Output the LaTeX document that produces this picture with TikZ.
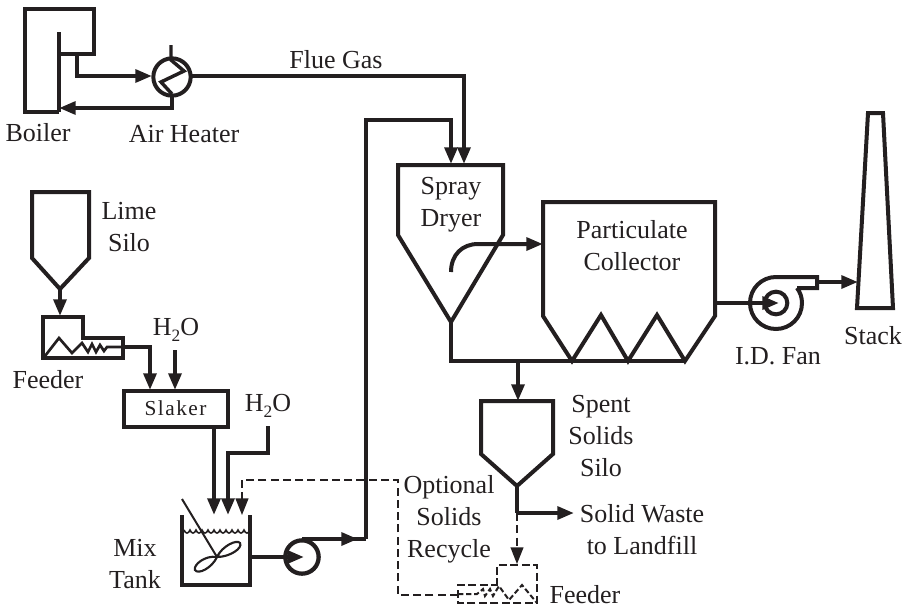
\documentclass[tikz,border=0pt]{standalone}
\usepackage{fontspec}
\setmainfont{Liberation Serif}
\usetikzlibrary{arrows.meta}
\newcommand{\wat}{H\raisebox{-4.5pt}{\fontsize{13}{13}\selectfont 2}O}
\tikzset{
  eq/.style={line width=3pt,line join=miter,color=ink},
  pipe/.style={line width=3pt,color=ink,line join=miter},
  flow/.style={pipe,-{Triangle[length=12.5pt,width=9.5pt]}},
  dashpipe/.style={line width=1.5pt,color=ink,dash pattern=on 6pt off 3.2pt},
  dashflow/.style={dashpipe,-{Triangle[length=12.5pt,width=9.5pt,sep=0pt]}},
  lbl/.style={inner sep=0pt,align=center,text=ink,font=\fontsize{19.5}{24}\selectfont},
}
\definecolor{ink}{RGB}{35,31,32}
\begin{document}
\begin{tikzpicture}[x=0.75pt,y=-0.75pt]
\useasboundingbox (0,0) rectangle (911,608);
% named points
\coordinate (boilerOut) at (77,54);
\coordinate (heaterW) at (152,76);
\coordinate (heaterE) at (192,76);
\coordinate (heaterS) at (172,97);
\coordinate (boilerIn) at (59,108);
\coordinate (dryerA) at (451,164);
\coordinate (dryerB) at (464,164);
\coordinate (dryerC) at (451,322);
\coordinate (pcW) at (543,244);
\coordinate (pcE) at (715,303);
\coordinate (fanC) at (779,303);
\coordinate (fanOut) at (817,282);
\coordinate (stackW) at (858,282);
\coordinate (limeOut) at (60,289);
\coordinate (feedT) at (60,316);
\coordinate (feedOut) at (123,347);
\coordinate (slakerA) at (150,390);
\coordinate (slakerB) at (175,390);
\coordinate (waterA) at (175,350);
\coordinate (slakerOut) at (214,427);
\coordinate (tankA) at (214,515);
\coordinate (tankB) at (228,515);
\coordinate (tankC) at (242,515);
\coordinate (waterB) at (268,426);
\coordinate (tankE) at (250,557);
\coordinate (pumpC) at (304,557);
\coordinate (pumpT) at (302,539);
\coordinate (pumpArrow) at (358,539);
\coordinate (bendA) at (366,539);
\coordinate (solidsIn) at (518,401);
\coordinate (busJ) at (518,361);
\coordinate (silo) at (517,486);
\coordinate (silojoin) at (517,513);
\coordinate (wasteEnd) at (574,513);
\coordinate (feeder2T) at (517,564);
\coordinate (feeder2W) at (458,595);
% Boiler
\draw[eq] (59,112) -- (25,112) -- (25,9) -- (94,9) -- (94,54) -- (59,54);
\draw[eq] (59,32) -- (59,112);
% Air heater
\node[draw=ink,line width=3pt,circle,minimum size=28pt,inner sep=0pt] (heater) at (172,77) {};
\draw[line width=2.6pt,color=ink] (171,45) -- (171,60) -- (184,71) -- (161,82) -- (172,94);
\draw[flow] (boilerOut) |- (heaterW);
\draw[flow] (heaterS) |- (boilerIn);
\draw[flow] (heaterE) -| (dryerB);
\draw[pipe] (pumpT) -- (bendA);
\draw[flow] (pumpT) -- (pumpArrow);
\draw[flow] (bendA) -- (366,120) -| (dryerA);
% Spray dryer
\draw[eq] (398,235) -- (398,165) -- (503,165) -- (503,235) -- (dryerC) -- cycle;
\draw[flow] (451,272) .. controls (451,255) and (462,244) .. (478,244) -- (pcW);
% Particulate collector
\draw[eq] (543,316) -- (543,202) -- (715,202) -- (715,316) -- (685,361) -- (657,315) -- (628,361) -- (601,315) -- (572,361) -- cycle;
\draw[pipe] (dryerC) |- (685,361);
\draw[flow] (busJ) -- (solidsIn);
% Fan
\draw[flow] (pcE) -- (fanC);
\node[draw=ink,line width=3pt,circle,minimum size=17pt,inner sep=0pt] (fan) at (776,303) {};
\draw[eq] (797,288) -- (817,288) -- (817,277) -- (776,277)
  .. controls (761.6,277) and (750,288.6) .. (750,303)
  .. controls (750,317.4) and (761.6,329) .. (776,329)
  .. controls (790.4,329) and (802,317.4) .. (802,303)
  .. controls (802,297) and (800,292) .. (797,288);
\draw[flow] (fanOut) -- (stackW);
% Stack
\draw[eq] (868,113) -- (883,113) -- (893,308) -- (857,308) -- cycle;
% Lime silo
\draw[eq] (32,258) -- (32,192) -- (89,192) -- (89,258) -- (limeOut) -- cycle;
\draw[flow] (limeOut) -- (feedT);
% Lime feeder
\draw[eq] (43,358) -- (43,317) -- (83,317) -- (83,338) -- (123,338) -- (123,358) -- cycle;
\draw[line width=2pt,color=ink] (45,356) -- (59,338) -- (72,353) -- (82,343) -- (88,352) -- (92,344) -- (96,352) -- (100,345) -- (104,351) -- (107,347) -- (123,347);
\draw[flow] (feedOut) -- (150,347) -- (slakerA);
\draw[flow] (waterA) -- (slakerB);
% Slaker
\node[draw=ink,line width=3pt,minimum width=78pt,minimum height=27pt,inner sep=0pt,anchor=center,text=ink,font=\fontsize{16}{18}\selectfont] (slaker) at (175.5,408.5) {\addfontfeature{LetterSpace=7}Slaker};
\draw[flow] (slakerOut) -- (tankA);
\draw[flow] (waterB) -- (268,453) -- (228,453) -- (tankB);
% Mix tank
\draw[eq] (182,515) -- (182,585) -- (250,585) -- (250,515);
\draw[line width=1.2pt,color=ink] (184,530) \foreach \i in {0,...,10} { .. controls ({184+6*\i+1.5},534) and ({184+6*\i+4.5},534) .. ({184+6*\i+6},530) };
\draw[line width=1.5pt,color=ink] (182,499) -- (217,557);
\draw[line width=1.6pt,color=ink] (217,557) .. controls (222,546) and (237,539) .. (240,543) .. controls (243,548) and (230,557) .. (217,557)
  .. controls (205,555) and (193,565) .. (195,570) .. controls (198,575) and (212,568) .. (217,557);
\draw[flow] (tankE) -- (pumpC);
% Pump
\node[draw=ink,line width=3.2pt,circle,minimum size=25pt,inner sep=0pt] (pump) at (302,557) {};
% Spent solids silo
\draw[eq] (481,454) -- (481,401) -- (553,401) -- (553,454) -- (silo) -- cycle;
\draw[pipe] (silo) -- (silojoin);
\draw[flow] (silojoin) -- (wasteEnd);
% Recycle
\draw[dashflow] (silojoin) -- (feeder2T);
\draw[line width=1.5pt,color=ink,dash pattern=on 6pt off 2.6pt] (497,586) -- (497,565) -- (537,565) -- (537,603) -- (458,603) -- (458,585) -- (497,585);
\draw[line width=1.5pt,color=ink,dash pattern=on 4pt off 2pt] (458,594) -- (477,594) -- (483,589) -- (485,596) -- (490,589) -- (493,596) -- (499,586) -- (509,600) -- (522,585) -- (537,603);
\draw[dashflow] (feeder2W) -- (398,595) -- (398,480) -- (242,480) -- (tankC);
% Labels
\node[lbl] (tBoiler) at (38,133) {Boiler};
\node[lbl] (tHeater) at (184,134) {Air Heater};
\node[lbl] (tFlue) at (336,60) {Flue Gas};
\node[lbl] (tDryer) at (451,205) {Spray\\Dryer};
\node[lbl] (tLime) at (129,227) {Lime\\Silo};
\node[lbl] (tFeeder) at (48,380) {Feeder};
\node[lbl] (tW1) at (176,330) {\wat};
\node[lbl] (tW2) at (268,406) {\wat};
\node[lbl] (tMix) at (135,564) {Mix\\Tank};
\node[lbl] (tRecycle) at (449,519) {Optional\\Solids\\Recycle};
\node[lbl] (tFeeder2) at (585,595) {Feeder};
\node[lbl] (tSpent) at (601,436) {Spent\\Solids\\Silo};
\node[lbl] (tWaste) at (642,530) {Solid Waste\\to Landfill};
\node[lbl] (tPC) at (632,246) {Particulate\\Collector};
\node[lbl] (tFan) at (778,356) {I.D. Fan};
\node[lbl] (tStack) at (873,336) {Stack};
\end{tikzpicture}
\end{document}
